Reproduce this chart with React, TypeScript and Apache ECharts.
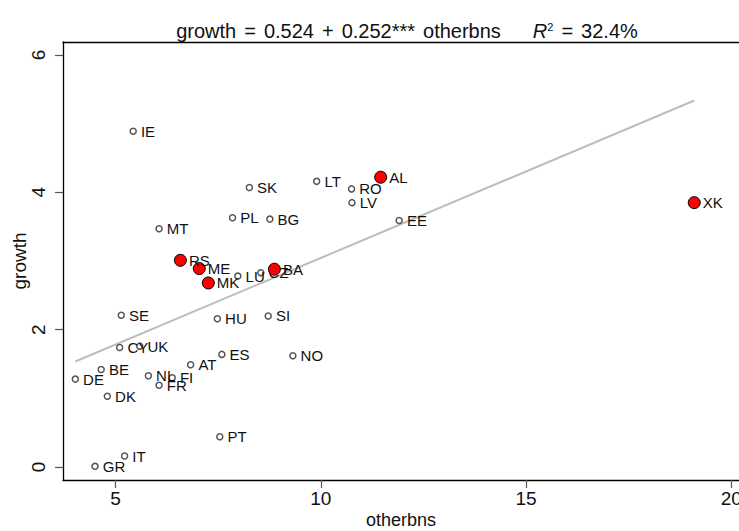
import React, { useEffect, useRef } from "react";
import * as echarts from "echarts";

// Countries (labels), otherbns (x) and growth (y)
const countries = ["IE","SK","LT","RO","LV","PL","BG","EE","MT","LU","CZ","SE","HU","SI","CY","UK","ES","NO","AT","BE","DE","NL","FI","FR","DK","PT","IT","GR"];
const otherbns = [5.43,8.26,9.90,10.75,10.76,7.85,8.76,11.91,6.06,7.98,8.54,5.14,7.48,8.72,5.10,5.59,7.59,9.32,6.83,4.65,4.02,5.80,6.38,6.06,4.80,7.54,5.22,4.50];
const growth = [4.89,4.07,4.16,4.05,3.85,3.63,3.61,3.59,3.47,2.78,2.83,2.21,2.16,2.20,1.74,1.76,1.64,1.62,1.49,1.42,1.28,1.33,1.30,1.19,1.03,0.44,0.16,0.01];

// Highlighted countries (red markers)
const hlCountries = ["AL","XK","RS","ME","MK","BA"];
const hlOtherbns = [11.46,19.10,6.58,7.04,7.26,8.87];
const hlGrowth = [4.22,3.85,3.01,2.89,2.68,2.88];

// Fitted line end points
const fitX = [4.02, 19.10];
const fitY = [1.537, 5.337];

const xTicks = [5, 10, 15, 20];
const yTicks = [0, 2, 4, 6];

const FONT = "'Liberation Sans', Arial, Helvetica, sans-serif";

export default function App() {
  const ref = useRef<HTMLDivElement>(null);
  useEffect(() => {
    if (!ref.current) return;
    const chart = echarts.init(ref.current, undefined, { renderer: "svg" });
    const mk = (names: string[], xs: number[], ys: number[]) =>
      names.map((n, i) => ({ name: n, value: [xs[i], ys[i]] }));
    const labelCfg = {
      show: true,
      position: "right",
      distance: 4,
      formatter: (p: any) => p.name,
      color: "#111",
      fontSize: 15,
      fontFamily: FONT,
    };
    const t = { fontSize: 20, color: "#111", fontFamily: FONT, fontWeight: "normal" };
    chart.setOption({
      animation: false,
      backgroundColor: "#ffffff",
      textStyle: { fontFamily: FONT },
      title: {
        text: "{a|growth}{b|=}{a|0.524}{b|+}{a|0.252***}{c|otherbns}{r|R}{s|2}{b|=}{a|32.4%}",
        left: 402,
        textAlign: "center",
        top: 16,
        textStyle: {
          fontWeight: "normal",
          rich: {
            a: { ...t },
            b: { ...t, padding: [0, 8, 0, 8] },
            c: { ...t, padding: [0, 0, 0, 8] },
            r: { ...t, fontStyle: "italic", padding: [0, 0, 0, 32] },
            s: { ...t, fontSize: 11, verticalAlign: "top", padding: [0, 0, 9, 0] },
          },
        },
      },
      grid: { left: 63, right: 0, top: 42, bottom: 51, outerBoundsMode: "none", containLabel: false },
      xAxis: [
        {
          type: "value",
          min: 3.72,
          max: 20.19,
          name: "otherbns",
          nameLocation: "middle",
          nameGap: 30,
          nameMoveOverlap: false,
          nameTextStyle: { fontSize: 18, lineHeight: 20, color: "#111", fontFamily: FONT },
          axisLine: { show: true, onZero: false, lineStyle: { color: "#000", width: 1.3 } },
          axisTick: { show: true, length: 8, customValues: xTicks, lineStyle: { color: "#555", width: 1.2 } },
          axisLabel: { customValues: xTicks, margin: 9, fontSize: 19, color: "#111", fontFamily: FONT },
          splitLine: { show: false },
        },
        {
          type: "value",
          position: "top",
          min: 3.72,
          max: 20.19,
          axisLine: { show: true, onZero: false, lineStyle: { color: "#000", width: 1.3 } },
          axisTick: { show: false },
          axisLabel: { show: false },
          splitLine: { show: false },
        },
      ],
      yAxis: {
        type: "value",
        min: -0.189,
        max: 6.189,
        name: "growth",
        nameLocation: "middle",
        nameGap: 34,
        nameMoveOverlap: false,
        nameRotate: 90,
        nameTextStyle: { fontSize: 19, color: "#111", fontFamily: FONT },
        axisLine: { show: true, onZero: false, lineStyle: { color: "#000", width: 1.3 } },
        axisTick: { show: true, length: 8, customValues: yTicks, lineStyle: { color: "#555", width: 1.2 } },
        axisLabel: { customValues: yTicks, rotate: 90, margin: 15, fontSize: 19, color: "#111", fontFamily: FONT },
        splitLine: { show: false },
      },
      series: [
        {
          type: "line",
          data: fitX.map((x, i) => [x, fitY[i]]),
          showSymbol: false,
          symbol: "none",
          lineStyle: { color: "#bdbdbd", width: 2 },
          z: 1,
          silent: true,
        },
        {
          type: "scatter",
          data: mk(countries, otherbns, growth),
          symbol: "circle",
          symbolSize: 6,
          itemStyle: { color: "#ffffff", borderColor: "#555555", borderWidth: 1.5, opacity: 1 },
          label: labelCfg,
          z: 3,
        },
        {
          type: "scatter",
          data: mk(hlCountries, hlOtherbns, hlGrowth),
          symbol: "circle",
          symbolSize: 12,
          itemStyle: { color: "#ff0000", borderColor: "#000000", borderWidth: 1, opacity: 1 },
          label: { ...labelCfg, distance: 2 },
          z: 4,
        },
      ],
    });
    return () => chart.dispose();
  }, []);
  return (
    <div
      ref={ref}
      style={{ position: "fixed", left: 0, top: 0, width: 739, height: 531, background: "#fff" }}
    />
  );
}
